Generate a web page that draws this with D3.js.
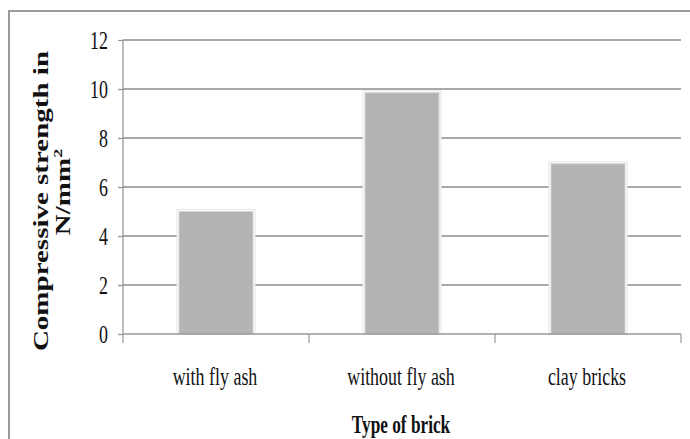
<!DOCTYPE html>
<html><head><meta charset="utf-8">
<script src="https://cdn.jsdelivr.net/npm/d3@7"></script>
<style>html,body{margin:0;padding:0;background:#fff;}svg{display:block;}</style>
</head><body>
<svg id="c" width="690" height="439"></svg>
<script>
const categories = ["with fly ash", "without fly ash", "clay bricks"];
const strengthValues = [5.0, 9.85, 6.95];
const yTickValues = [0, 2, 4, 6, 8, 10, 12];
const yTitleLine1 = "Compressive strength in";
const yTitleLine2 = "N/mm";
const xTitle = "Type of brick";

const svg = d3.select("#c");
const SX = 0.69; // horizontal condensation of the serif text
const serif = "'Liberation Serif','Times New Roman',serif";

// outer frame
svg.append("path").attr("d", "M9,439 V11 H690").attr("fill", "none")
  .attr("stroke", "#9a9a9a").attr("stroke-width", 2);

const x = d3.scaleBand().domain(categories).range([123, 681])
  .paddingInner(0.602).paddingOuter(0.301);
const y = d3.scaleLinear().domain([0, 12]).range([334, 40]);

// gridlines
svg.append("g").selectAll("line").data(yTickValues.filter(d => d > 0)).join("line")
  .attr("x1", 123).attr("x2", 681).attr("y1", d => y(d)).attr("y2", d => y(d))
  .attr("stroke", "#8c8c8c").attr("stroke-width", 1.3);

// y axis
const yAxis = d3.axisLeft(y).tickValues(yTickValues).tickSize(5).tickFormat("");
const ya = svg.append("g").attr("transform", "translate(123,0)").call(yAxis);
ya.select(".domain").attr("stroke", "#999").attr("stroke-width", 1.3).attr("d", "M0,40 V334");
ya.selectAll(".tick line").attr("stroke", "#999").attr("stroke-width", 1.3);

// y tick labels (condensed)
svg.append("g").selectAll("g").data(yTickValues).join("g")
  .attr("transform", d => `translate(108,${y(d)}) scale(${SX},1)`)
  .append("text").attr("text-anchor", "end").attr("dy", "0.34em")
  .attr("font-family", serif).attr("font-size", 26).attr("fill", "#111")
  .text(d => d);

// bars
const bars = svg.append("g");
bars.selectAll("rect.halo").data(categories).join("rect").attr("class", "halo")
  .attr("x", d => x(d) - 2).attr("width", x.bandwidth() + 4)
  .attr("y", (d, i) => y(strengthValues[i]) - 2)
  .attr("height", (d, i) => y(0) - y(strengthValues[i]) + 2)
  .attr("fill", "#fff").attr("stroke", "#e6e6e6").attr("stroke-width", 1);
bars.selectAll("rect.bar").data(categories).join("rect").attr("class", "bar")
  .attr("x", d => x(d)).attr("width", x.bandwidth())
  .attr("y", (d, i) => y(strengthValues[i]))
  .attr("height", (d, i) => y(0) - y(strengthValues[i]))
  .attr("fill", "#b3b3b3").attr("stroke", "#d4d4d4").attr("stroke-width", 1);

// x axis
const xa = svg.append("g").attr("transform", "translate(0,334)");
xa.append("line").attr("x1", 123).attr("x2", 681).attr("y1", 0).attr("y2", 0)
  .attr("stroke", "#999").attr("stroke-width", 1.5);
const bounds = [123].concat(categories.map(c => x(c) + x.bandwidth() / 2 + x.step() / 2));
xa.selectAll("line.tk").data(bounds).join("line").attr("class", "tk")
  .attr("x1", d => d).attr("x2", d => d).attr("y1", 0).attr("y2", 9)
  .attr("stroke", "#999").attr("stroke-width", 1.2);

// category labels
svg.append("g").selectAll("g").data(categories).join("g")
  .attr("transform", d => `translate(${x(d) + x.bandwidth() / 2 - 1},385) scale(${SX},1)`)
  .append("text").attr("text-anchor", "middle")
  .attr("font-family", serif).attr("font-size", 26).attr("fill", "#111")
  .text(d => d);

// x title
svg.append("g").attr("transform", `translate(401,433) scale(${SX},1)`)
  .append("text").attr("text-anchor", "middle").attr("font-weight", "bold")
  .attr("font-family", serif).attr("font-size", 25).attr("fill", "#111")
  .text(xTitle);

// y title (two lines, rotated)
svg.append("g").attr("transform", `translate(48,201) scale(${SX},1) rotate(-90)`)
  .append("text").attr("text-anchor", "middle").attr("font-weight", "bold")
  .attr("font-family", serif).attr("font-size", 29).attr("fill", "#111")
  .text(yTitleLine1);
const t2 = svg.append("g").attr("transform", `translate(70,192) scale(${SX},1) rotate(-90)`)
  .append("text").attr("text-anchor", "middle").attr("font-weight", "bold")
  .attr("font-family", serif).attr("font-size", 29).attr("fill", "#111");
t2.append("tspan").text(yTitleLine2);
t2.append("tspan").attr("font-size", 18).attr("dy", -12).text("2");
</script>
</body></html>
